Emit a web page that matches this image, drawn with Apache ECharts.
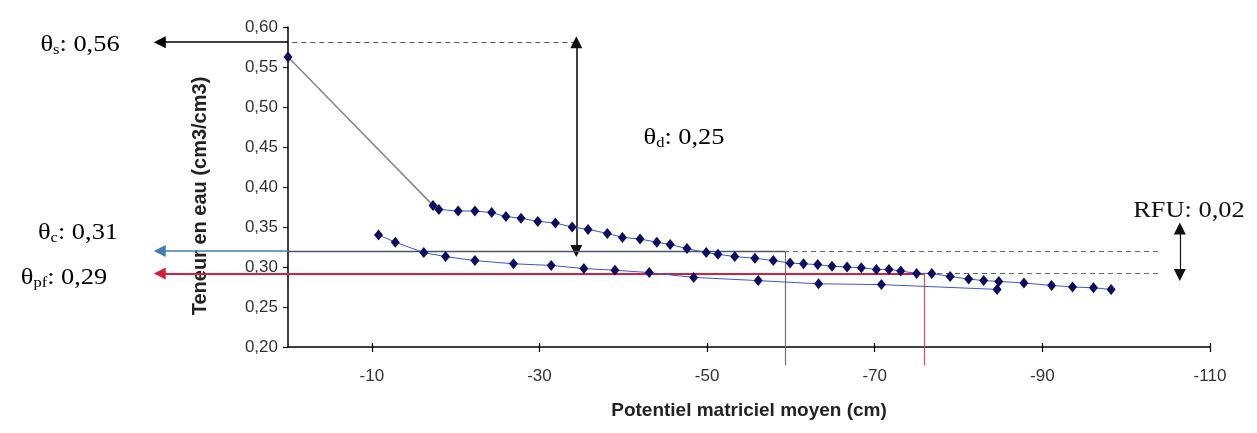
<!DOCTYPE html>
<html lang="fr">
<head>
<meta charset="utf-8">
<title>Teneur en eau et potentiel matriciel</title>
<script src="https://cdn.jsdelivr.net/npm/echarts@6.0.0/dist/echarts.min.js"></script>
<style>
  html, body { margin: 0; padding: 0; background: #fff; }
  #chart { width: 1257px; height: 433px; }
</style>
</head>
<body>
<div id="chart"></div>
<script>
// Courbes de rétention : teneur en eau (cm3/cm3) selon le potentiel matriciel moyen (cm)
const upperPotential = [-17.3, -18.0, -20.3, -22.3, -24.3, -26.0, -27.8, -29.8, -31.9, -33.9,
  -35.8, -38.1, -39.9, -42.0, -44.0, -45.6, -47.6, -49.9, -51.3, -53.3,
  -55.7, -57.9, -59.9, -61.5, -63.2, -64.9, -66.7, -68.4, -70.2, -71.7,
  -73.1, -75.0, -76.8, -79.0, -81.2, -83.0, -84.8, -87.8, -91.1, -93.6,
  -96.1, -98.2];
const upperContent = [0.377, 0.372, 0.370, 0.370, 0.368, 0.363, 0.361, 0.357, 0.355, 0.350,
  0.347, 0.342, 0.337, 0.335, 0.331, 0.328, 0.323, 0.318, 0.316, 0.313,
  0.311, 0.308, 0.305, 0.304, 0.303, 0.301, 0.300, 0.299, 0.297, 0.297,
  0.295, 0.292, 0.292, 0.288, 0.285, 0.283, 0.282, 0.280, 0.277, 0.275,
  0.274, 0.272];
const lowerPotential = [-10.8, -12.8, -16.2, -18.8, -22.3, -26.9, -31.4, -35.3, -39.0, -43.1,
  -48.4, -56.1, -63.3, -70.8, -84.6];
const lowerContent = [0.340, 0.331, 0.318, 0.313, 0.308, 0.304, 0.302, 0.298, 0.296, 0.293,
  0.287, 0.283, 0.279, 0.278, 0.272];

// Point à saturation (potentiel nul)
const saturationPoint = [0, 0.5625];

// Niveaux repères des flèches : saturation, capacité au champ, point de flétrissement
const levelSaturation = 0.581;
const levelFieldCapacity = 0.320;
const levelWilting = 0.292;
// Potentiels repères
const potentialDrainArrow = -34.4;
const potentialFieldCapacity = -59.3;
const potentialWilting = -75.9;

const xTickValues = [-10, -30, -50, -70, -90, -110];

const labelSaturation = { sub: 's', value: '0,56' };
const labelDrainable = { sub: 'd', value: '0,25' };
const labelFieldCapacity = { sub: 'c', value: '0,31' };
const labelWilting = { sub: 'pf', value: '0,29' };
const labelRFU = 'RFU: 0,02';

// ---- construction ----
const pairs = (xs, ys) => xs.map((x, i) => [x, ys[i]]);
const upper = pairs(upperPotential, upperContent);
const lower = pairs(lowerPotential, lowerContent);

const navy = '#0d0d5e';
const seriesLine = '#3f55d0';
const arrowTip = 15.3;      // extrémité gauche des flèches, hors du graphique
const dashEnd = -103.8;     // fin des pointillés à droite
const dropBottom = 0.177;   // bas des verticales repères
const rfuTop = 0.348, rfuBottom = 0.290, rfuPotential = -106.4;

// segment de repère : couleur, épaisseur, tirets, pointes de flèche
const seg = (a, b, color, width, dash, symbols) => ({
  coords: [a, b],
  symbol: symbols || ['none', 'none'],
  itemStyle: { color: color, opacity: 1 },
  lineStyle: { color: color, width: width, type: dash ? [5, 4] : 'solid', opacity: 1 }
});
const TIP = ['none', 'triangle'];
const BOTH = ['triangle', 'triangle'];

const annotationSegments = [
  // saturation
  seg([potentialDrainArrow, levelSaturation], [0, levelSaturation], '#555', 1, true),
  seg([0, levelSaturation], [arrowTip, levelSaturation], '#000', 1.6, false, TIP),
  // double flèche θd
  seg([potentialDrainArrow, levelSaturation], [potentialDrainArrow, levelFieldCapacity], '#111', 1.6, false, BOTH),
  // capacité au champ
  seg([0, levelFieldCapacity], [arrowTip, levelFieldCapacity], '#3f7db2', 1.6, false, TIP),
  seg([potentialFieldCapacity, levelFieldCapacity], [0, levelFieldCapacity], '#44596b', 1.3, false),
  seg([dashEnd, levelFieldCapacity], [potentialFieldCapacity, levelFieldCapacity], '#666', 1, true),
  seg([potentialFieldCapacity, levelFieldCapacity], [potentialFieldCapacity, dropBottom], '#6f6f6f', 1.2, false),
  // point de flétrissement
  seg([potentialWilting, levelWilting], [arrowTip, levelWilting], '#d4213d', 1.8, false, TIP),
  seg([dashEnd, levelWilting], [potentialWilting, levelWilting], '#666', 1, true),
  seg([potentialWilting, levelWilting], [potentialWilting, dropBottom], '#dc4a66', 1.2, false),
  // RFU
  seg([rfuPotential, rfuTop], [rfuPotential, rfuBottom], '#111', 1.2, false, BOTH)
];

const serifRich = {
  t: { fontFamily: 'Liberation Serif', fontSize: 24, color: '#111', lineHeight: 26 },
  s: { fontFamily: 'Liberation Serif', fontSize: 15, color: '#111', verticalAlign: 'bottom', lineHeight: 9 }
};
const thetaText = (lab, x, y) => ({
  type: 'text', x: x, y: y, scaleX: 1.1, z: 10,
  style: {
    text: '{t|θ}{s|' + lab.sub + '}{t|: ' + lab.value + '}',
    rich: serifRich, align: 'center', verticalAlign: 'middle'
  }
});

const xAxisBase = { type: 'value', inverse: true, min: -110, max: 0, gridIndex: 0 };

const chart = echarts.init(document.getElementById('chart'), null, { renderer: 'canvas' });
chart.setOption({
  animation: false,
  backgroundColor: '#ffffff',
  textStyle: { fontFamily: 'Liberation Sans' },
  grid: { left: 288, right: 47, top: 27, bottom: 86, containLabel: false },
  xAxis: [
    Object.assign({}, xAxisBase, {
      position: 'bottom',
      name: 'Potentiel matriciel moyen (cm)', nameLocation: 'middle', nameGap: 54,
      nameTextStyle: { fontFamily: 'Liberation Sans', fontWeight: 'bold', fontSize: 19, color: '#222' },
      axisLine: { onZero: false, lineStyle: { color: '#000', width: 1.5 } },
      axisTick: { customValues: xTickValues, length: 5, lineStyle: { color: '#000', width: 1.2 } },
      axisLabel: { customValues: xTickValues, margin: 21, fontSize: 17, color: '#333' },
      splitLine: { show: false }
    }),
    // graduations en croix : partie intérieure
    Object.assign({}, xAxisBase, {
      position: 'bottom', offset: 0,
      axisLine: { show: false, onZero: false },
      axisTick: { customValues: xTickValues, inside: true, length: 4, lineStyle: { color: '#000', width: 1.2 } },
      axisLabel: { show: false },
      splitLine: { show: false }
    })
  ],
  yAxis: {
    type: 'value', min: 0.2, max: 0.6, interval: 0.05,
    name: 'Teneur en eau (cm3/cm3)', nameLocation: 'middle', nameGap: 78, nameRotate: 90,
    nameTextStyle: { fontFamily: 'Liberation Sans', fontWeight: 'bold', fontSize: 20, color: '#222',
      padding: [0, 18, 0, 0] },
    axisLine: { onZero: false, lineStyle: { color: '#000', width: 1.5 } },
    axisTick: { length: 5, lineStyle: { color: '#000', width: 1.2 } },
    axisLabel: { margin: 10, fontSize: 17, color: '#333',
      formatter: v => v.toFixed(2).replace('.', ',') },
    splitLine: { show: false }
  },
  series: [
    {
      type: 'lines', coordinateSystem: 'cartesian2d', clip: false, z: 1,
      symbolSize: 12, silent: true,
      lineStyle: { opacity: 1 },
      data: annotationSegments
    },
    {
      name: 'saturation', type: 'line', z: 2, clip: false,
      data: [
        { value: saturationPoint, symbol: 'diamond', symbolSize: [9, 11] },
        { value: upper[0], symbol: 'none' }
      ],
      showSymbol: true,
      itemStyle: { color: navy },
      lineStyle: { color: '#8a8a8a', width: 1.6 }
    },
    {
      name: 'série 1', type: 'line', z: 3, data: upper,
      symbol: 'diamond', symbolSize: [9, 11], showSymbol: true,
      itemStyle: { color: navy },
      lineStyle: { color: seriesLine, width: 1 }
    },
    {
      name: 'série 2', type: 'line', z: 3, data: lower,
      symbol: 'diamond', symbolSize: [9, 11], showSymbol: true,
      itemStyle: { color: navy },
      lineStyle: { color: seriesLine, width: 1 }
    }
  ],
  graphic: [
    thetaText(labelSaturation, 80, 45),
    thetaText(labelDrainable, 684, 138),
    thetaText(labelFieldCapacity, 78, 233),
    thetaText(labelWilting, 64, 278),
    {
      type: 'text', x: 1189, y: 211, scaleX: 1.1, z: 10,
      style: { text: labelRFU, fontFamily: 'Liberation Serif', fontSize: 24, fill: '#111',
        align: 'center', verticalAlign: 'middle' }
    }
  ]
});
</script>
</body>
</html>
